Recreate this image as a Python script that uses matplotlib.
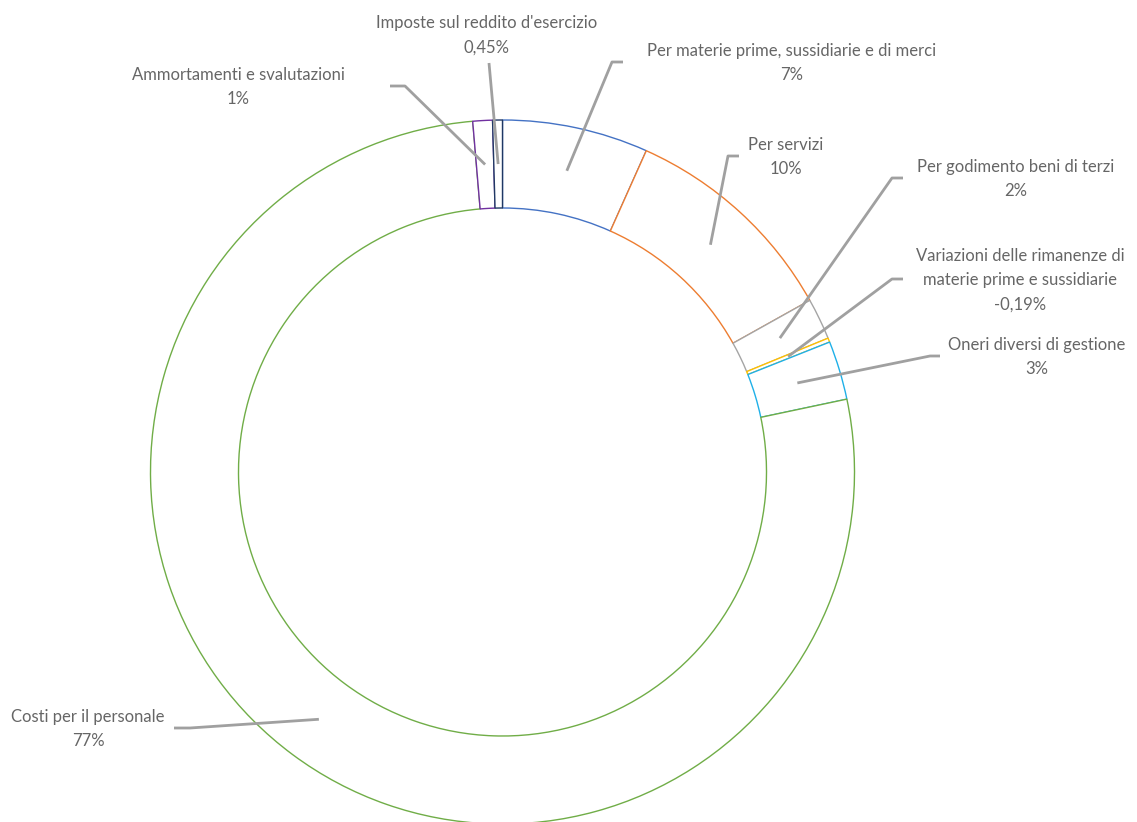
import numpy as np
import matplotlib
matplotlib.use("Agg")
import matplotlib.pyplot as plt

# slices, clockwise from 12 o'clock
categories = [
    "Per materie prime, sussidiarie e di merci",
    "Per servizi",
    "Per godimento beni di terzi",
    "Variazioni delle rimanenze di\nmaterie prime e sussidiarie",
    "Oneri diversi di gestione",
    "Costi per il personale",
    "Ammortamenti e svalutazioni",
    "Imposte sul reddito d'esercizio",
]
values = [6.7, 10.2, 1.9, 0.19, 2.7, 77.0, 0.9, 0.45]
pct_labels = ["7%", "10%", "2%", "-0,19%", "3%", "77%", "1%", "0,45%"]
colors = ["#4472C4", "#ED7D31", "#A5A5A5", "#FFC000",
          "#1FB0E8", "#70AD47", "#7030A0", "#203864"]

# label text centre and leader elbow (pixels from top-left)
label_pos = [(792, 63), (786, 157), (1016, 179), (1020, 280),
             (1037, 357), (88, 729), (238, 87), (487, 35)]
leader_start = [(623, 62), (739, 156), (903, 178), (903, 279),
                (940, 356), (174, 728), (390, 86), (489, 63)]
elbow_len = [11, 11, 11, 11, 10, -16, -15, 0]

W, H = 1137, 822
fig = plt.figure(figsize=(W / 100, H / 100), dpi=100)
ax = fig.add_axes([0, 0, 1, 1])

cx, cy = 502.5, H - 472
r_out, ring = 352, 88

wedges, _ = ax.pie(
    values, center=(cx, cy), radius=r_out, startangle=90, counterclock=False,
    colors=["white"] * len(values),
    wedgeprops=dict(width=ring, linewidth=1.0),
)
for w, c in zip(wedges, colors):
    w.set_edgecolor(c)

ax.set_xlim(0, W)
ax.set_ylim(0, H)
ax.set_aspect("equal")
ax.axis("off")

txt_color = "#666666"
line_color = "#A0A0A0"
r_mid = r_out - ring / 2

for i, w in enumerate(wedges):
    ang = np.deg2rad((w.theta1 + w.theta2) / 2)
    ax_x = cx + r_mid * np.cos(ang)
    ax_y = cy + r_mid * np.sin(ang)
    px, py = label_pos[i]
    ax.text(px, H - py, categories[i] + "\n" + pct_labels[i],
            ha="center", va="center", fontsize=12,
            color=txt_color, family=["Lato", "DejaVu Sans"], linespacing=1.65)
    sx, sy = leader_start[i]
    kx = sx - elbow_len[i]
    ax.plot([sx, kx, ax_x], [H - sy, H - sy, ax_y], color=line_color, lw=2,
            solid_capstyle="butt")

fig.savefig("out.png", dpi=100)
